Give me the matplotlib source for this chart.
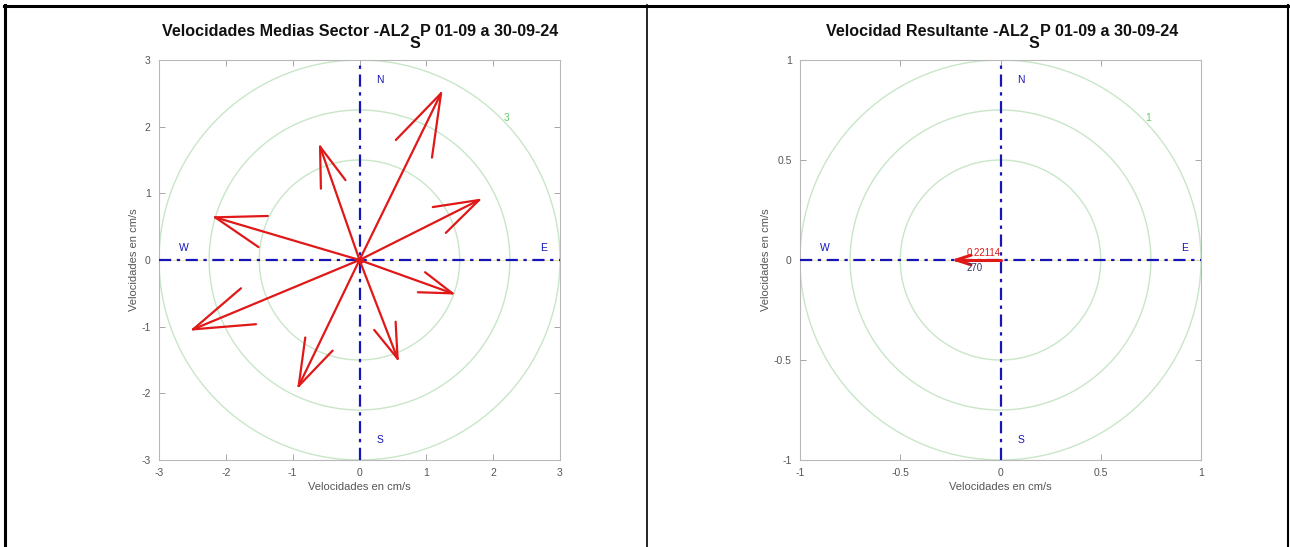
import numpy as np
import matplotlib
matplotlib.use("Agg")
import matplotlib.pyplot as plt
from matplotlib.lines import Line2D

plt.rcParams['font.family'] = ['Liberation Sans', 'DejaVu Sans']
plt.rcParams['axes.unicode_minus'] = False

# ---- data ----
title_parts = [('Velocidades Medias Sector -AL2', 'S', 'P 01-09 a 30-09-24'),
               ('Velocidad Resultante -AL2', 'S', 'P 01-09 a 30-09-24')]
axis_label = 'Velocidades en cm/s'
# sector mean velocities (east, north components, cm/s)
sector_u = [1.22, 1.79, 1.39, 0.57, -0.91, -2.49, -2.16, -0.59]
sector_v = [2.50, 0.90, -0.50, -1.48, -1.89, -1.04, 0.64, 1.70]
# resultant velocity
result_u = [-0.22114]
result_v = [0.0]
result_mag_label = '0.22114'
result_dir_label = '270'
ax_limits = [3, 1]
ring_fracs = [0.5, 0.75, 1.0]
ticks_left = [-3, -2, -1, 0, 1, 2, 3]
ticks_right = [-1, -0.5, 0, 0.5, 1]
tick_labels_right = ['-1', '-0.5', '0', '0.5', '1']
ring_labels = ['3', '1']

W, H = 1290, 547
fig = plt.figure(figsize=(W / 100, H / 100), dpi=100)

# table frame
frame = fig.add_axes([0, 0, 1, 1])
frame.set_xlim(0, W)
frame.set_ylim(H, 0)
frame.axis('off')
frame.add_line(Line2D([4, 1289], [5.5, 5.5], color='black', lw=2.2))
frame.add_line(Line2D([5, 5], [5, H], color='black', lw=2.2))
frame.add_line(Line2D([647, 647], [5, H], color='black', lw=1.2))
frame.add_line(Line2D([1288, 1288], [5, H], color='black', lw=1.5))

blue = '#1616b8'
red = '#e01818'
green_ring = '#c8e6c8'
green_lbl = '#66cc66'
gray = '#555555'
renderer = fig.canvas.get_renderer()


def draw_title(cx, cy, parts, size=11.6):
    texts = [frame.text(0, cy, p, fontsize=size, fontweight='bold', color='#111111',
                        ha='left', va='center') for p in parts]
    widths = [t.get_window_extent(renderer).width for t in texts]
    x = cx - sum(widths) / 2
    offs = [0, 12, 0]
    for t, w, o in zip(texts, widths, offs):
        t.set_x(x)
        t.set_y(cy + o)
        x += w


def draw_arrow(ax, u, v, lw):
    L = np.hypot(u, v)
    ang = np.arctan2(v, u)
    hl = 0.35 * L
    da = np.deg2rad(18)
    ax.plot([0, u], [0, v], color=red, lw=lw, solid_capstyle='round', zorder=5)
    for s in (+1, -1):
        a = ang + np.pi + s * da
        ax.plot([u, u + hl * np.cos(a)], [v, v + hl * np.sin(a)], color=red,
                lw=lw, solid_capstyle='round', zorder=5)


def setup(ax, lim, ticks, ticklabels, ring_label):
    ax.set_xlim(-lim, lim)
    ax.set_ylim(-lim, lim)
    ax.set_xticks(ticks)
    ax.set_yticks(ticks)
    if ticklabels is not None:
        ax.set_xticklabels(ticklabels)
        ax.set_yticklabels(ticklabels)
    ax.tick_params(direction='in', top=True, right=True, length=4, width=0.6,
                   colors='#999999', labelcolor=gray, labelsize=7.5, pad=6)
    for sp in ax.spines.values():
        sp.set_color('#b8b8b8')
        sp.set_linewidth(0.8)
    th = np.linspace(0, 2 * np.pi, 400)
    for f in ring_fracs:
        ax.plot(f * lim * np.cos(th), f * lim * np.sin(th), color=green_ring, lw=1.0, zorder=1)
    ax.text(0.735 * lim, 0.71 * lim, ring_label, color=green_lbl, fontsize=7.5,
            ha='center', va='center')
    ax.plot([-lim, lim], [0, 0], color='#f0e890', lw=0.6, zorder=2)
    ax.plot([-lim, lim], [0, 0], color=blue, lw=1.6, dashes=(5.5, 2.5, 1.5, 2.5), zorder=3)
    ax.plot([0, 0], [-lim, lim], color=blue, lw=1.6, dashes=(5.5, 2.5, 1.5, 2.5), zorder=3)
    ax.text(0.1 * lim, 0.9 * lim, 'N', color=blue, fontsize=7.5, ha='center', va='center')
    ax.text(0.1 * lim, -0.9 * lim, 'S', color=blue, fontsize=7.5, ha='center', va='center')
    ax.text(-0.878 * lim, 0.06 * lim, 'W', color=blue, fontsize=7.5, ha='center', va='center')
    ax.text(0.918 * lim, 0.06 * lim, 'E', color=blue, fontsize=7.5, ha='center', va='center')
    ax.set_xlabel(axis_label, color=gray, fontsize=8, labelpad=3)
    ax.set_ylabel(axis_label, color=gray, fontsize=8, labelpad=2)


ax1 = fig.add_axes([159 / W, 1 - 460 / H, 401 / W, 400 / H])
setup(ax1, ax_limits[0], ticks_left, None, ring_labels[0])
for u, v in zip(sector_u, sector_v):
    draw_arrow(ax1, u, v, 1.6)
ax1.plot([0], [0], 'o', color=red, ms=4, zorder=6)
draw_title(360, 31.5, title_parts[0])

ax2 = fig.add_axes([800 / W, 1 - 460 / H, 401 / W, 400 / H])
setup(ax2, ax_limits[1], ticks_right, tick_labels_right, ring_labels[1])
for u, v in zip(result_u, result_v):
    draw_arrow(ax2, u, v, 2.2)
ax2.text(-0.17, 0.012, result_mag_label, color=red, fontsize=7, ha='left', va='bottom', zorder=7)
ax2.text(-0.17, -0.015, result_dir_label, color='#333366', fontsize=7, ha='left', va='top', zorder=7)
draw_title(1002, 31.5, title_parts[1])

fig.savefig('out.png', dpi=100)
